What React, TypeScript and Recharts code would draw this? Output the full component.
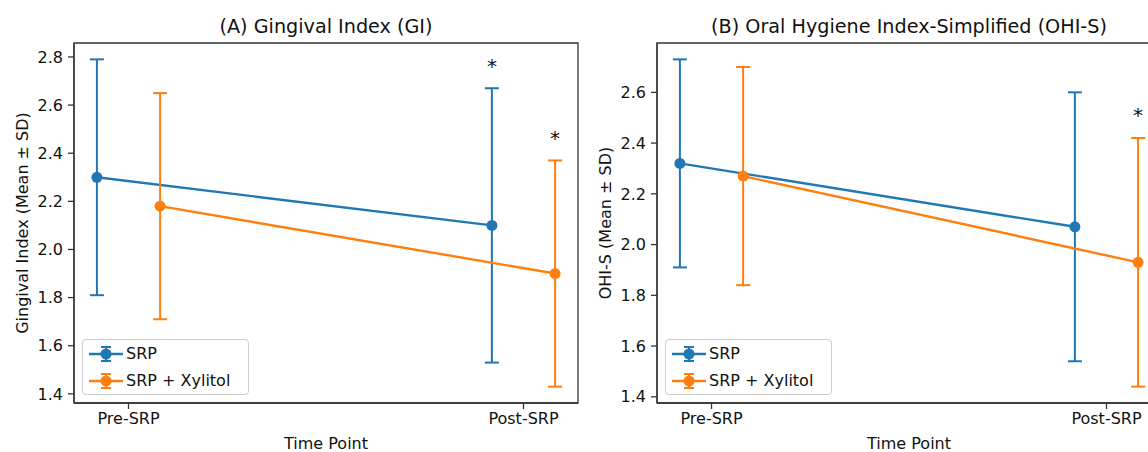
import React from 'react';
import { ComposedChart, Line, Scatter, XAxis, YAxis, ErrorBar, Legend, ReferenceArea } from 'recharts';

const timePoints = ['Pre-SRP', 'Post-SRP'];
const groups = ['SRP', 'SRP + Xylitol'];
const groupColors = ['#1f77b4', '#ff7f0e'];

// (A) Gingival Index, mean and SD per time point
const giSrpMean = [2.3, 2.1];
const giSrpSd = [0.49, 0.57];
const giXylitolMean = [2.18, 1.9];
const giXylitolSd = [0.47, 0.47];
const giStars = [[false, true], [false, true]];
const giTicks = [1.4, 1.6, 1.8, 2.0, 2.2, 2.4, 2.6, 2.8];

// (B) OHI-S, mean and SD per time point
const ohiSrpMean = [2.32, 2.07];
const ohiSrpSd = [0.41, 0.53];
const ohiXylitolMean = [2.27, 1.93];
const ohiXylitolSd = [0.43, 0.49];
const ohiStars = [[false, false], [false, true]];
const ohiTicks = [1.4, 1.6, 1.8, 2.0, 2.2, 2.4, 2.6];

const FONT = '"DejaVu Sans", sans-serif';
const TEXT = '#111';
const SPINE = '#333';
const DODGE = 0.08;

const buildSeries = (means: number[], sds: number[], shift: number) =>
  means.map((m, i) => ({ x: i + shift, y: m, sd: sds[i] }));

// matplotlib-style 5% autoscale margins
const padDomain = (lo: number, hi: number): [number, number] => {
  const m = (hi - lo) * 0.05;
  return [lo - m, hi + m];
};

const StarShape = (props: any) => (
  <text x={props.cx} y={props.cy} textAnchor="middle" fontSize={20} fontFamily={FONT} fill={TEXT}>
    *
  </text>
);

const LegendBox = () => (
  <div
    style={{
      width: 167,
      height: 56,
      boxSizing: 'border-box',
      border: '1px solid #cccccc',
      borderRadius: 4,
      background: 'rgba(255,255,255,0.8)',
      paddingLeft: 5,
      fontFamily: FONT,
      fontSize: 16,
      color: TEXT,
    }}
  >
    {groups.map((g, i) => (
      <div key={g} style={{ display: 'flex', alignItems: 'center', height: 27 }}>
        <svg width={36} height={20}>
          <line x1={1} x2={35} y1={10} y2={10} stroke={groupColors[i]} strokeWidth={2.4} />
          <line x1={18} x2={18} y1={3} y2={17} stroke={groupColors[i]} strokeWidth={2} />
          <line x1={13} x2={23} y1={3} y2={3} stroke={groupColors[i]} strokeWidth={2} />
          <line x1={13} x2={23} y1={17} y2={17} stroke={groupColors[i]} strokeWidth={2} />
          <circle cx={18} cy={10} r={5.5} fill={groupColors[i]} />
        </svg>
        <span style={{ marginLeft: 2 }}>{g}</span>
      </div>
    ))}
  </div>
);

interface PanelProps {
  title: string;
  yLabel: string;
  srpMean: number[];
  srpSd: number[];
  xyMean: number[];
  xySd: number[];
  stars: boolean[][];
  ticks: number[];
}

const Panel: React.FC<PanelProps> = ({ title, yLabel, srpMean, srpSd, xyMean, xySd, stars, ticks }) => {
  const series = [buildSeries(srpMean, srpSd, -DODGE), buildSeries(xyMean, xySd, DODGE)];
  const lows = series.flat().map(d => d.y - d.sd);
  const highs = series.flat().map(d => d.y + d.sd);
  const yDomain = padDomain(Math.min(...lows), Math.max(...highs));
  const xDomain = padDomain(-DODGE, 1 + DODGE);

  const starPoints = series.flatMap((s, gi) =>
    s.filter((_, ti) => stars[gi][ti]).map(d => ({ x: d.x, y: d.y + d.sd + 0.065 }))
  );

  const axisText = { fill: TEXT, fontSize: 16, fontFamily: FONT };

  return (
    <ComposedChart width={580} height={452} margin={{ top: 43, right: 2, bottom: 0, left: 24 }}>
      <XAxis
        type="number"
        dataKey="x"
        domain={xDomain}
        allowDataOverflow
        ticks={[0, 1]}
        tickFormatter={(v: number) => timePoints[Math.round(v)]}
        height={49}
        tick={axisText}
        tickSize={6}
        tickMargin={4}
        stroke={SPINE}
        strokeWidth={1.3}
        label={{
          content: (p: any) => (
            <text
              x={p.viewBox.x + p.viewBox.width / 2}
              y={p.viewBox.y + 46}
              textAnchor="middle"
              fontSize={16}
              fontFamily={FONT}
              fill={TEXT}
            >
              Time Point
            </text>
          ),
        }}
      />
      <YAxis
        type="number"
        domain={yDomain}
        allowDataOverflow
        ticks={ticks}
        tickFormatter={(v: number) => v.toFixed(1)}
        width={50}
        tick={axisText}
        tickSize={6}
        tickMargin={5}
        stroke={SPINE}
        strokeWidth={1.3}
        label={{
          content: (p: any) => {
            const cx = p.viewBox.x - 2;
            const cy = p.viewBox.y + p.viewBox.height / 2;
            return (
              <text
                x={cx}
                y={cy}
                transform={`rotate(-90 ${cx} ${cy})`}
                textAnchor="middle"
                dominantBaseline="central"
                fontSize={16}
                fontFamily={FONT}
                fill={TEXT}
              >
                {yLabel}
              </text>
            );
          },
        }}
      />
      {/* axes frame + panel title */}
      <ReferenceArea
        x1={xDomain[0]}
        x2={xDomain[1]}
        y1={yDomain[0]}
        y2={yDomain[1]}
        fill="none"
        stroke={SPINE}
        strokeWidth={1.3}
        ifOverflow="visible"
        label={{
          content: (p: any) => (
            <text
              x={p.viewBox.x + p.viewBox.width / 2}
              y={p.viewBox.y - 10}
              textAnchor="middle"
              fontSize={19.2}
              fontFamily={FONT}
              fill={TEXT}
            >
              {title}
            </text>
          ),
        }}
      />
      {series.map((s, gi) => (
        <Line
          key={groups[gi]}
          data={s}
          dataKey="y"
          name={groups[gi]}
          stroke={groupColors[gi]}
          strokeWidth={2.4}
          dot={{ r: 5.5, fill: groupColors[gi], stroke: groupColors[gi], strokeWidth: 0 }}
          activeDot={false}
          isAnimationActive={false}
        >
          <ErrorBar
            dataKey="sd"
            direction="y"
            width={7}
            stroke={groupColors[gi]}
            strokeWidth={2}
            isAnimationActive={false}
          />
        </Line>
      ))}
      <Scatter data={starPoints} dataKey="y" shape={StarShape} isAnimationActive={false} legendType="none" />
      <Legend
        layout="vertical"
        align="center"
        verticalAlign="middle"
        content={() => <LegendBox />}
        wrapperStyle={{ left: 82, top: 339, width: 167, height: 56 }}
      />
    </ComposedChart>
  );
};

export default function App() {
  return (
    <div
      style={{
        position: 'absolute',
        left: 0,
        top: 0,
        width: 1148,
        height: 452,
        overflow: 'hidden',
        background: '#fff',
      }}
    >
      <div style={{ position: 'absolute', left: 0, top: 0 }}>
        <Panel
          title="(A) Gingival Index (GI)"
          yLabel="Gingival Index (Mean ± SD)"
          srpMean={giSrpMean}
          srpSd={giSrpSd}
          xyMean={giXylitolMean}
          xySd={giXylitolSd}
          stars={giStars}
          ticks={giTicks}
        />
      </div>
      <div style={{ position: 'absolute', left: 583, top: 0 }}>
        <Panel
          title="(B) Oral Hygiene Index-Simplified (OHI-S)"
          yLabel="OHI-S (Mean ± SD)"
          srpMean={ohiSrpMean}
          srpSd={ohiSrpSd}
          xyMean={ohiXylitolMean}
          xySd={ohiXylitolSd}
          stars={ohiStars}
          ticks={ohiTicks}
        />
      </div>
    </div>
  );
}
